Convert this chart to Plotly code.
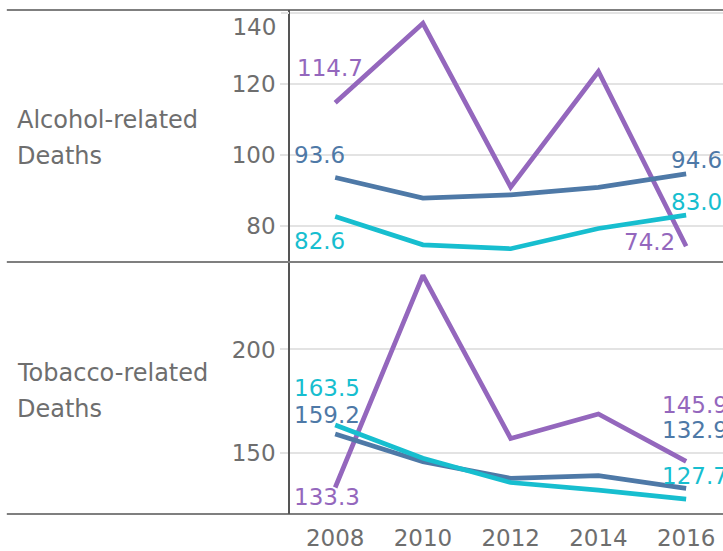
import plotly.graph_objects as go
from plotly.subplots import make_subplots

years = [2008, 2010, 2012, 2014, 2016]
row_labels = [["Alcohol-related", "Deaths"], ["Tobacco-related", "Deaths"]]
series_names = ["Group A", "Group B", "Group C"]
series_colors = ["#9467bd", "#4e79a7", "#17becf"]

alcohol_a = [114.7, 137.1, 90.9, 123.5, 74.2]
alcohol_b = [93.6, 87.8, 88.7, 90.8, 94.6]
alcohol_c = [82.6, 74.6, 73.5, 79.2, 83.0]

tobacco_a = [133.3, 235.8, 157.0, 168.8, 145.9]
tobacco_b = [159.2, 145.8, 137.7, 139.0, 132.9]
tobacco_c = [163.5, 147.4, 135.7, 132.0, 127.7]

alcohol_ticks = [80, 100, 120]
alcohol_top_tick = [140]
tobacco_ticks = [150, 200]

FONT = "DejaVu Sans"
GRAY = "#6e6e6e"
GRID = "#e3e3e3"
FS = 23
ALC_RANGE = [69.9, 140.85]
TOB_RANGE = [120.5, 242.0]

fig = make_subplots(rows=2, cols=1, shared_xaxes=True, vertical_spacing=0.002)

panels = [
    (1, [alcohol_a, alcohol_b, alcohol_c]),
    (2, [tobacco_a, tobacco_b, tobacco_c]),
]
for row, group in panels:
    for name, color, vals in zip(series_names, series_colors, group):
        fig.add_trace(go.Scatter(x=years, y=vals, mode="lines", name=name,
                                 line=dict(color=color, width=4.7),
                                 showlegend=False, hoverinfo="x+y+name"),
                      row=row, col=1)

# empty helper trace so the overlay axis (top tick label) is drawn
fig.add_trace(go.Scatter(x=[], y=[], xaxis="x", yaxis="y3", showlegend=False,
                         hoverinfo="skip"))

# label offsets (pixels) for first / last points
# (panel, series index, point index, xanchor, xshift, yshift)
label_specs = [
    (1, 0, 0, "left", -40, 35),
    (1, 1, 0, "left", -43, 22),
    (1, 2, 0, "left", -43, -25),
    (1, 0, 4, "right", -9, 4),
    (1, 1, 4, "left", -17, 14),
    (1, 2, 4, "left", -17, 13),
    (2, 0, 0, "left", -43, -9),
    (2, 1, 0, "left", -43, 19),
    (2, 2, 0, "left", -43, 37),
    (2, 0, 4, "left", -26, 56),
    (2, 1, 4, "left", -26, 58),
    (2, 2, 4, "left", -26, 23),
]
for panel, si, pi, xa, xs, ys in label_specs:
    vals = panels[panel - 1][1][si]
    fig.add_annotation(x=years[pi], y=vals[pi], xref="x" if panel == 1 else "x2",
                       yref="y" if panel == 1 else "y2",
                       text=f"{vals[pi]:.1f}", showarrow=False,
                       xanchor=xa, yanchor="middle", xshift=xs, yshift=ys,
                       font=dict(family=FONT, size=FS, color=series_colors[si]))

# row header labels
for i, (l1, l2) in enumerate(row_labels):
    ymid = 0.75 if i == 0 else 0.249
    for j, t in enumerate([l1, l2]):
        fig.add_annotation(x=-0.634, y=ymid, xref="paper", yref="paper",
                           text=t, showarrow=False, xanchor="left", yanchor="middle",
                           yshift=16 - 36 * j,
                           font=dict(family=FONT, size=24, color=GRAY))

# separators
line_style = dict(color="#555555", width=1.5)
for yv in [1.0, 0.5, 0.0]:
    fig.add_shape(type="line", xref="paper", yref="paper", x0=-0.654, x1=1.0,
                  y0=yv, y1=yv, line=line_style)

fig.update_xaxes(range=[2006.97, 2016.84], tickvals=years, showgrid=False,
                 zeroline=False, ticks="", showline=False, automargin=False,
                 tickfont=dict(family=FONT, size=FS, color=GRAY))
fig.update_xaxes(ticklabelstandoff=8, row=2, col=1)
fig.update_yaxes(showgrid=True, gridcolor=GRID, gridwidth=1.5, zeroline=False,
                 ticks="outside", ticklen=8, tickcolor=GRID, tickwidth=1.5,
                 showline=True, linecolor="#555555", linewidth=1.5,
                 automargin=False,
                 tickfont=dict(family=FONT, size=FS, color=GRAY))
fig.update_yaxes(range=ALC_RANGE, tickvals=alcohol_ticks, row=1, col=1)
fig.update_yaxes(range=TOB_RANGE, tickvals=tobacco_ticks, row=2, col=1)

# the top tick sits at the pane's edge; its label is nudged down inside the pane
fig.update_layout(yaxis3=dict(overlaying="y", anchor="x", range=ALC_RANGE,
                              tickvals=alcohol_top_tick, showgrid=True,
                              gridcolor=GRID, gridwidth=1.5, automargin=False,
                              zeroline=False, showline=False, ticks="outside",
                              ticklen=8, tickcolor=GRID, tickwidth=1.5,
                              ticklabelshift=14, ticklabeloverflow="allow",
                              tickfont=dict(family=FONT, size=FS, color=GRAY)))

fig.update_layout(width=723, height=551, margin=dict(l=290, r=0, t=10, b=37,
                                                     autoexpand=False),
                  plot_bgcolor="white", paper_bgcolor="white",
                  font=dict(family=FONT, color=GRAY))

fig.write_html("out.html", config={"displayModeBar": False},
               post_script="document.body.style.margin='0px';")
